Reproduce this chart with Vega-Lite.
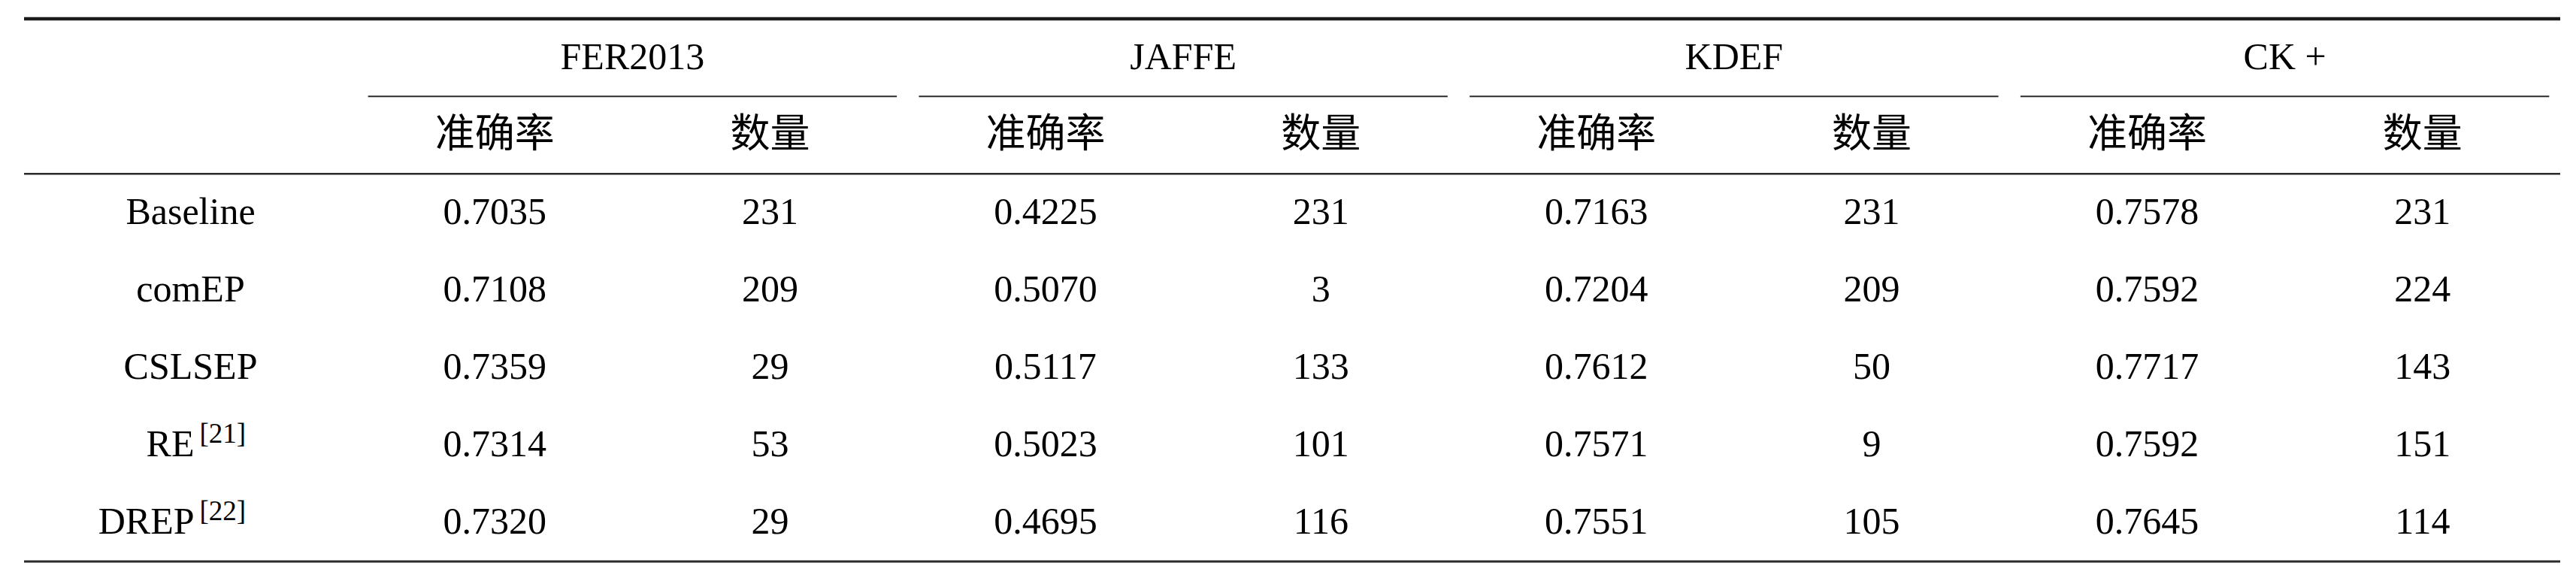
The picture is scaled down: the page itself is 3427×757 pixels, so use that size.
{
  "$schema": "https://vega.github.io/schema/vega-lite/v6.json",
  "background": "white",
  "padding": {"left": 29, "top": 22, "right": 0, "bottom": 0},
  "bounds": "flush",
  "spacing": 0,
  "datasets": {
    "scores": [
      {"method": "Baseline", "dataset": "FER2013", "metric": "准确率", "value": 0.7035},
      {"method": "Baseline", "dataset": "FER2013", "metric": "数量", "value": 231},
      {"method": "Baseline", "dataset": "JAFFE", "metric": "准确率", "value": 0.4225},
      {"method": "Baseline", "dataset": "JAFFE", "metric": "数量", "value": 231},
      {"method": "Baseline", "dataset": "KDEF", "metric": "准确率", "value": 0.7163},
      {"method": "Baseline", "dataset": "KDEF", "metric": "数量", "value": 231},
      {"method": "Baseline", "dataset": "CK +", "metric": "准确率", "value": 0.7578},
      {"method": "Baseline", "dataset": "CK +", "metric": "数量", "value": 231},
      {"method": "comEP", "dataset": "FER2013", "metric": "准确率", "value": 0.7108},
      {"method": "comEP", "dataset": "FER2013", "metric": "数量", "value": 209},
      {"method": "comEP", "dataset": "JAFFE", "metric": "准确率", "value": 0.5070},
      {"method": "comEP", "dataset": "JAFFE", "metric": "数量", "value": 3},
      {"method": "comEP", "dataset": "KDEF", "metric": "准确率", "value": 0.7204},
      {"method": "comEP", "dataset": "KDEF", "metric": "数量", "value": 209},
      {"method": "comEP", "dataset": "CK +", "metric": "准确率", "value": 0.7592},
      {"method": "comEP", "dataset": "CK +", "metric": "数量", "value": 224},
      {"method": "CSLSEP", "dataset": "FER2013", "metric": "准确率", "value": 0.7359},
      {"method": "CSLSEP", "dataset": "FER2013", "metric": "数量", "value": 29},
      {"method": "CSLSEP", "dataset": "JAFFE", "metric": "准确率", "value": 0.5117},
      {"method": "CSLSEP", "dataset": "JAFFE", "metric": "数量", "value": 133},
      {"method": "CSLSEP", "dataset": "KDEF", "metric": "准确率", "value": 0.7612},
      {"method": "CSLSEP", "dataset": "KDEF", "metric": "数量", "value": 50},
      {"method": "CSLSEP", "dataset": "CK +", "metric": "准确率", "value": 0.7717},
      {"method": "CSLSEP", "dataset": "CK +", "metric": "数量", "value": 143},
      {"method": "RE", "dataset": "FER2013", "metric": "准确率", "value": 0.7314},
      {"method": "RE", "dataset": "FER2013", "metric": "数量", "value": 53},
      {"method": "RE", "dataset": "JAFFE", "metric": "准确率", "value": 0.5023},
      {"method": "RE", "dataset": "JAFFE", "metric": "数量", "value": 101},
      {"method": "RE", "dataset": "KDEF", "metric": "准确率", "value": 0.7571},
      {"method": "RE", "dataset": "KDEF", "metric": "数量", "value": 9},
      {"method": "RE", "dataset": "CK +", "metric": "准确率", "value": 0.7592},
      {"method": "RE", "dataset": "CK +", "metric": "数量", "value": 151},
      {"method": "DREP", "dataset": "FER2013", "metric": "准确率", "value": 0.7320},
      {"method": "DREP", "dataset": "FER2013", "metric": "数量", "value": 29},
      {"method": "DREP", "dataset": "JAFFE", "metric": "准确率", "value": 0.4695},
      {"method": "DREP", "dataset": "JAFFE", "metric": "数量", "value": 116},
      {"method": "DREP", "dataset": "KDEF", "metric": "准确率", "value": 0.7551},
      {"method": "DREP", "dataset": "KDEF", "metric": "数量", "value": 105},
      {"method": "DREP", "dataset": "CK +", "metric": "准确率", "value": 0.7645},
      {"method": "DREP", "dataset": "CK +", "metric": "数量", "value": 114}
    ],
    "methods": [
      {"method": "Baseline", "ref": null},
      {"method": "comEP", "ref": null},
      {"method": "CSLSEP", "ref": null},
      {"method": "RE", "ref": "[21]"},
      {"method": "DREP", "ref": "[22]"}
    ],
    "groups": [
      {"dataset": "FER2013"},
      {"dataset": "JAFFE"},
      {"dataset": "KDEF"},
      {"dataset": "CK +"}
    ],
    "columns": [
      {"dataset": "FER2013", "metric": "准确率"},
      {"dataset": "FER2013", "metric": "数量"},
      {"dataset": "JAFFE", "metric": "准确率"},
      {"dataset": "JAFFE", "metric": "数量"},
      {"dataset": "KDEF", "metric": "准确率"},
      {"dataset": "KDEF", "metric": "数量"},
      {"dataset": "CK +", "metric": "准确率"},
      {"dataset": "CK +", "metric": "数量"}
    ],
    "one": [{}]
  },
  "hconcat": [
    {
      "width": 443,
      "height": 722,
      "layer": [
        {
          "data": {"name": "methods"},
          "transform": [{"filter": "datum.ref == null"}],
          "mark": {"type": "text", "baseline": "middle", "align": "center"},
          "encoding": {
            "y": {"field": "method", "type": "nominal", "scale": {"domain": ["group", "metric", "Baseline", "comEP", "CSLSEP", "RE", "DREP"], "type": "band", "paddingInner": 0, "paddingOuter": 0}, "axis": null},
            "text": {"field": "method"}
          }
        },
        {
          "data": {"name": "methods"},
          "transform": [{"filter": "datum.ref != null"}],
          "mark": {"type": "text", "baseline": "middle", "align": "right", "dx": 5},
          "encoding": {
            "y": {"field": "method", "type": "nominal", "axis": null},
            "text": {"field": "method"}
          }
        },
        {
          "data": {"name": "methods"},
          "transform": [{"filter": "datum.ref != null"}],
          "mark": {"type": "text", "baseline": "middle", "align": "left", "dx": 12, "dy": -14, "fontSize": 37},
          "encoding": {
            "y": {"field": "method", "type": "nominal", "axis": null},
            "text": {"field": "ref"}
          }
        },
        {
          "data": {"name": "one"},
          "mark": {"type": "rule", "strokeWidth": 4.5, "color": "#1a1a1a"},
          "encoding": {"y": {"datum": "group", "bandPosition": 0}}
        },
        {
          "data": {"name": "one"},
          "mark": {"type": "rule", "strokeWidth": 2.5, "color": "#2a2a2a"},
          "encoding": {"y": {"datum": "metric", "bandPosition": 1}}
        },
        {
          "data": {"name": "one"},
          "mark": {"type": "rule", "strokeWidth": 3, "color": "#2a2a2a"},
          "encoding": {"y": {"datum": "DREP", "bandPosition": 1}}
        }
      ]
    },
    {
      "width": 2931,
      "height": 722,
      "layer": [
        {
          "data": {"name": "groups"},
          "transform": [{"calculate": "datum.dataset + '|准确率'", "as": "first"}],
          "mark": {"type": "text", "baseline": "middle"},
          "encoding": {
            "x": {
              "field": "first",
              "type": "nominal",
              "bandPosition": 1,
              "scale": {
                "type": "band",
                "domain": ["FER2013|准确率", "FER2013|数量", "JAFFE|准确率", "JAFFE|数量", "KDEF|准确率", "KDEF|数量", "CK +|准确率", "CK +|数量"],
                "paddingInner": 0,
                "paddingOuter": 0
              },
              "axis": null
            },
            "y": {"datum": "group", "scale": {"domain": ["group", "metric", "Baseline", "comEP", "CSLSEP", "RE", "DREP"], "type": "band", "paddingInner": 0, "paddingOuter": 0}, "axis": null},
            "text": {"field": "dataset"}
          }
        },
        {
          "data": {"name": "groups"},
          "transform": [
            {"calculate": "datum.dataset + '|准确率'", "as": "first"},
            {"calculate": "datum.dataset + '|数量'", "as": "last"}
          ],
          "mark": {"type": "rule", "strokeWidth": 2, "color": "#2a2a2a"},
          "encoding": {
            "x": {"field": "first", "type": "nominal", "bandPosition": 0.04},
            "x2": {"field": "last", "bandPosition": 0.96},
            "y": {"datum": "group", "bandPosition": 1}
          }
        },
        {
          "data": {"name": "columns"},
          "transform": [{"calculate": "datum.dataset + '|' + datum.metric", "as": "col"}],
          "mark": {"type": "text", "baseline": "middle", "fontSize": 53},
          "encoding": {
            "x": {"field": "col", "type": "nominal"},
            "y": {"datum": "metric"},
            "text": {"field": "metric"}
          }
        },
        {
          "data": {"name": "scores"},
          "transform": [
            {"filter": "datum.metric == '准确率'"},
            {"calculate": "datum.dataset + '|' + datum.metric", "as": "col"}
          ],
          "mark": {"type": "text", "baseline": "middle"},
          "encoding": {
            "x": {"field": "col", "type": "nominal"},
            "y": {"field": "method", "type": "nominal"},
            "text": {"field": "value", "type": "quantitative", "format": ".4f"}
          }
        },
        {
          "data": {"name": "scores"},
          "transform": [
            {"filter": "datum.metric == '数量'"},
            {"calculate": "datum.dataset + '|' + datum.metric", "as": "col"}
          ],
          "mark": {"type": "text", "baseline": "middle"},
          "encoding": {
            "x": {"field": "col", "type": "nominal"},
            "y": {"field": "method", "type": "nominal"},
            "text": {"field": "value", "type": "quantitative", "format": "d"}
          }
        },
        {
          "data": {"name": "one"},
          "mark": {"type": "rule", "strokeWidth": 4.5, "color": "#1a1a1a"},
          "encoding": {"y": {"datum": "group", "bandPosition": 0}}
        },
        {
          "data": {"name": "one"},
          "mark": {"type": "rule", "strokeWidth": 2.5, "color": "#2a2a2a"},
          "encoding": {"y": {"datum": "metric", "bandPosition": 1}}
        },
        {
          "data": {"name": "one"},
          "mark": {"type": "rule", "strokeWidth": 3, "color": "#2a2a2a"},
          "encoding": {"y": {"datum": "DREP", "bandPosition": 1}}
        }
      ]
    }
  ],
  "config": {
    "view": {"stroke": null},
    "text": {"font": "Liberation Serif, Noto Sans CJK SC", "fontSize": 50, "color": "black"}
  }
}
